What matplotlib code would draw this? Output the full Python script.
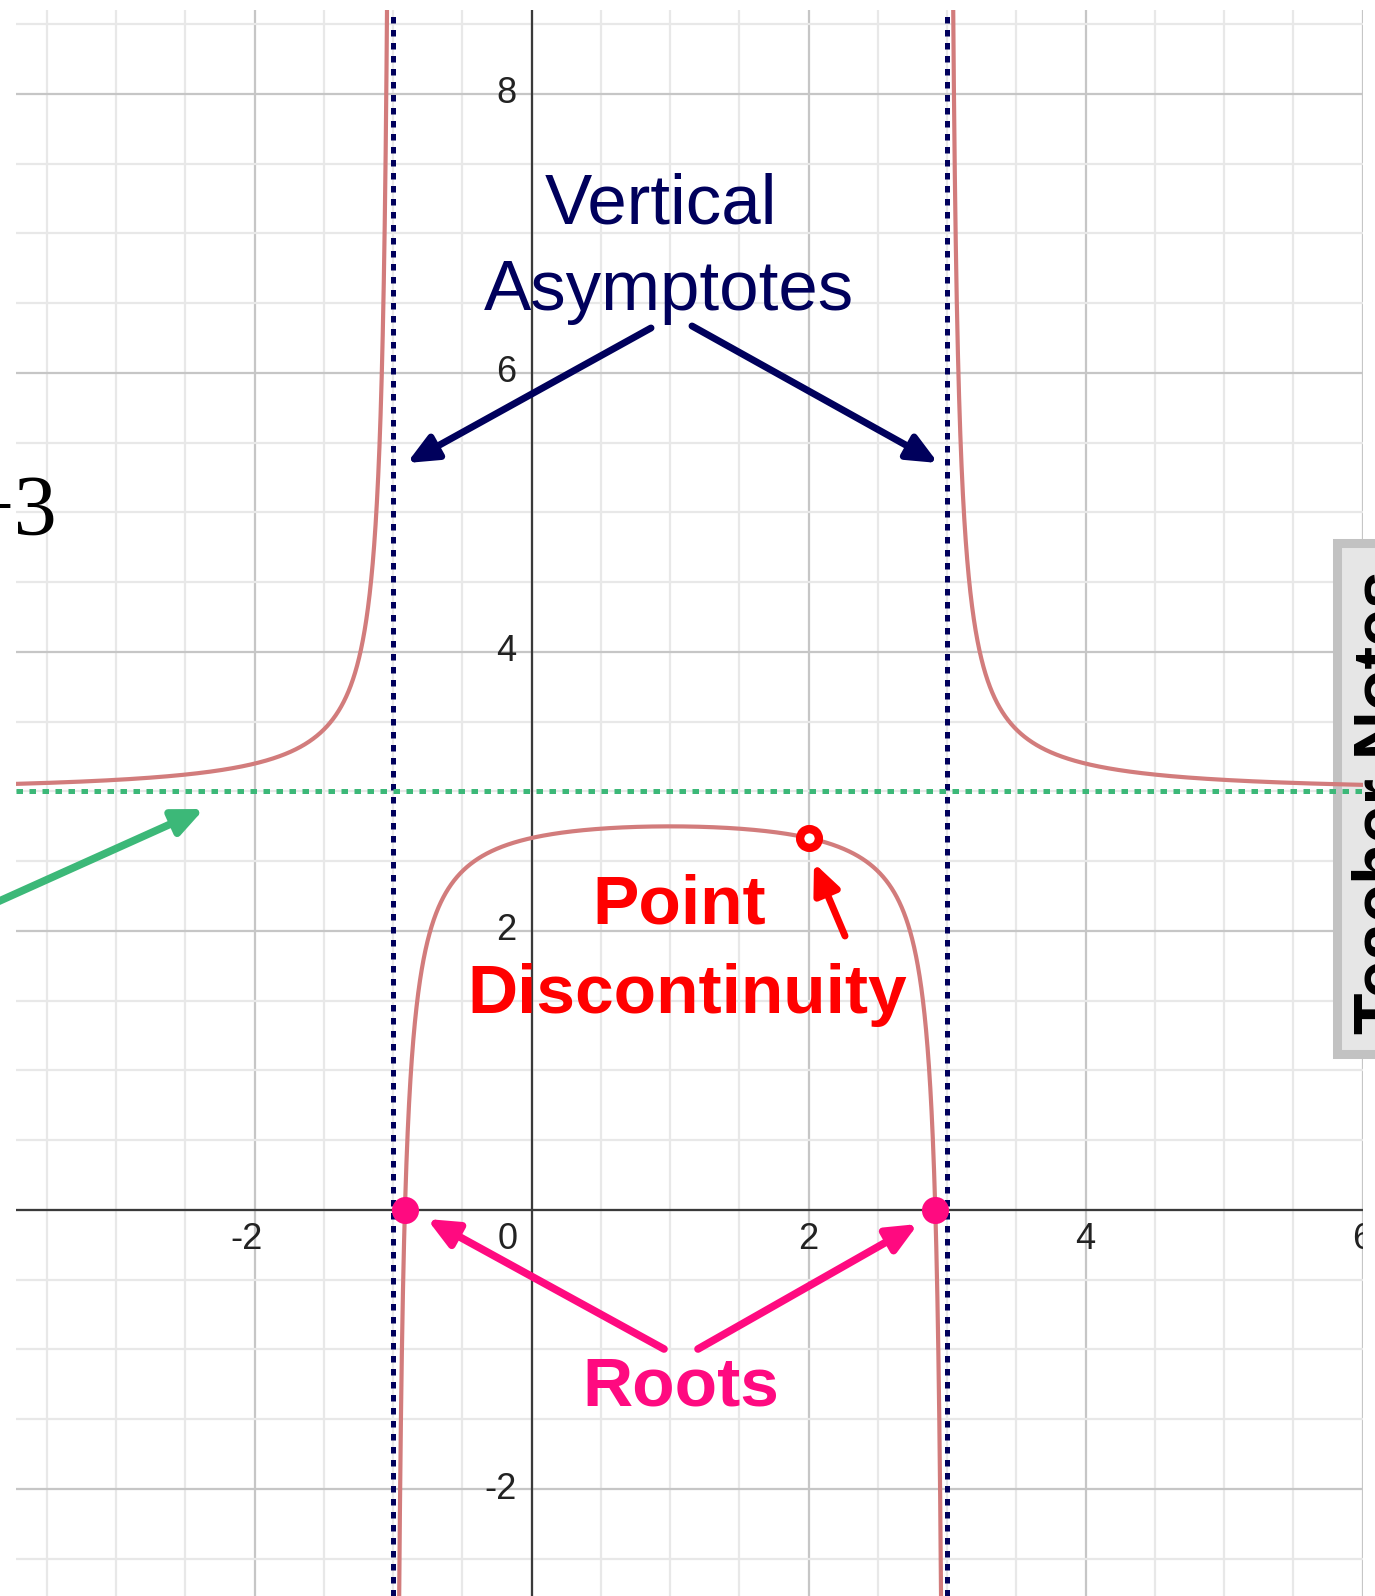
import numpy as np
import matplotlib.pyplot as plt
from matplotlib.patches import Rectangle

plt.rcParams['font.family'] = ['Liberation Sans', 'DejaVu Sans']

W, H = 1375, 1596

# graphed function: y = 3 + 1 / ((x + 1)(x - 3)), with a hole at x = 2
asymptotes_x = [-1, 3]
asymptote_y = 3
coef = 1
roots = [-0.915, 2.915]
hole_x = 2

x_ticks = [-2, 2, 4, 6]
y_ticks = [-2, 2, 4, 6, 8]
x_lim = (-3.723, 6.003)
y_lim = (-2.767, 8.602)


def f(x):
    return asymptote_y + coef / ((x - asymptotes_x[0]) * (x - asymptotes_x[1]))


fig = plt.figure(figsize=(W / 100, H / 100), dpi=100)
ax = fig.add_axes([16 / W, 0, (1363 - 16) / W, (H - 10) / H])

# desmos style grid
ax.set_xticks(np.arange(-4, 7, 2))
ax.set_xticks(np.arange(-4, 6.5, 0.5), minor=True)
ax.set_yticks(np.arange(-2, 9, 2))
ax.set_yticks(np.arange(-3, 9, 0.5), minor=True)
ax.set_xlim(*x_lim)
ax.set_ylim(*y_lim)
ax.grid(which='major', color='#c6c6c6', lw=1.6)
ax.grid(which='minor', color='#e8e8e8', lw=1.6)
ax.set_axisbelow(True)
ax.tick_params(which='both', length=0, labelbottom=False, labelleft=False)
for s in ax.spines.values():
    s.set_visible(False)
ax.axhline(0, color='#3a3a3a', lw=1.6, zorder=1.5)
ax.axvline(0, color='#3a3a3a', lw=1.6, zorder=1.5)

# tick labels
lab = dict(fontsize=26, color='#222222', textcoords='offset pixels', va='center')
for t in x_ticks:
    if t < 0:
        ax.annotate(str(t), (t, 0), xytext=(8, -30), ha='right', clip_on=True, **lab)
    else:
        ax.annotate(str(t), (t, 0), xytext=(0, -30), ha='center', clip_on=True, **lab)
ax.annotate('0', (0, 0), xytext=(-24, -30), ha='center', **lab)
for t in y_ticks:
    ax.annotate(str(t), (0, t), xytext=(-15, 0), ha='right', **lab)

# curve, one piece between each pair of asymptotes
bounds = [x_lim[0]] + asymptotes_x + [x_lim[1]]
for a, b in zip(bounds[:-1], bounds[1:]):
    xs = np.linspace(a + 1e-4, b - 1e-4, 4000)
    ax.plot(xs, f(xs), color='#d27c7c', lw=3, zorder=3)

# asymptotes
dots = (0, (1.3, 1.3))
for xa in asymptotes_x:
    ax.axvline(xa, color='#00005c', lw=3.6, ls=dots, zorder=4)
ax.axhline(asymptote_y, color='#3cb878', lw=3.6, ls=dots, zorder=4)

# roots and hole
ax.plot(roots, [0] * len(roots), 'o', ms=19.5, color='#ff0a80', mec='none', zorder=5)
ax.plot([hole_x], [f(hole_x)], 'o', ms=13.5, mfc='white', mec='#ff0000', mew=6, zorder=5)

# overlay in image pixel coordinates for the callouts
ov = fig.add_axes([0, 0, 1, 1])
ov.set_xlim(0, W)
ov.set_ylim(H, 0)
ov.axis('off')

# teacher notes tab on the right edge
box = Rectangle((1337, 543), 70, 511, transform=ov.transData, clip_on=False,
                lw=6.5, ec='#c2c2c2', fc='#e6e6e6', zorder=1)
ax.add_patch(box)
ov.text(1352, 1034, 'Teacher Notes', rotation=90, ha='left', va='bottom',
        fontsize=49, weight='bold', color='black')

ov.text(58, 535, '+3', ha='right', va='baseline', fontsize=62,
        family=['Liberation Serif', 'DejaVu Serif'], color='black')


def arrow(x0, y0, x1, y1, color, lw=5):
    ov.annotate('', xy=(x1, y1), xytext=(x0, y0),
                arrowprops=dict(arrowstyle='-|>,head_length=0.9,head_width=0.4',
                                mutation_scale=20, lw=lw, color=color,
                                shrinkA=0, shrinkB=0))


navy = '#00005c'
ov.text(661, 224, 'Vertical', ha='center', va='baseline', fontsize=51, color=navy)
ov.text(669, 310, 'Asymptotes', ha='center', va='baseline', fontsize=51, color=navy)
arrow(651, 328, 407, 463, navy)
arrow(692, 326, 938, 463, navy)

ov.text(679, 924, 'Point', ha='center', va='baseline', fontsize=50, weight='bold', color='#ff0000')
ov.text(687, 1013, 'Discontinuity', ha='center', va='baseline', fontsize=50, weight='bold', color='#ff0000')
arrow(845, 936, 814, 863, '#ff0000')

ov.text(681, 1405, 'Roots', ha='center', va='baseline', fontsize=50, weight='bold', color='#ff0a80')
arrow(664, 1349, 427, 1219, '#ff0a80', lw=5.5)
arrow(698, 1349, 918, 1224, '#ff0a80', lw=5.5)

arrow(-5, 903, 204, 809, '#3cb878', lw=5.5)

fig.savefig('out.png', dpi=100)
